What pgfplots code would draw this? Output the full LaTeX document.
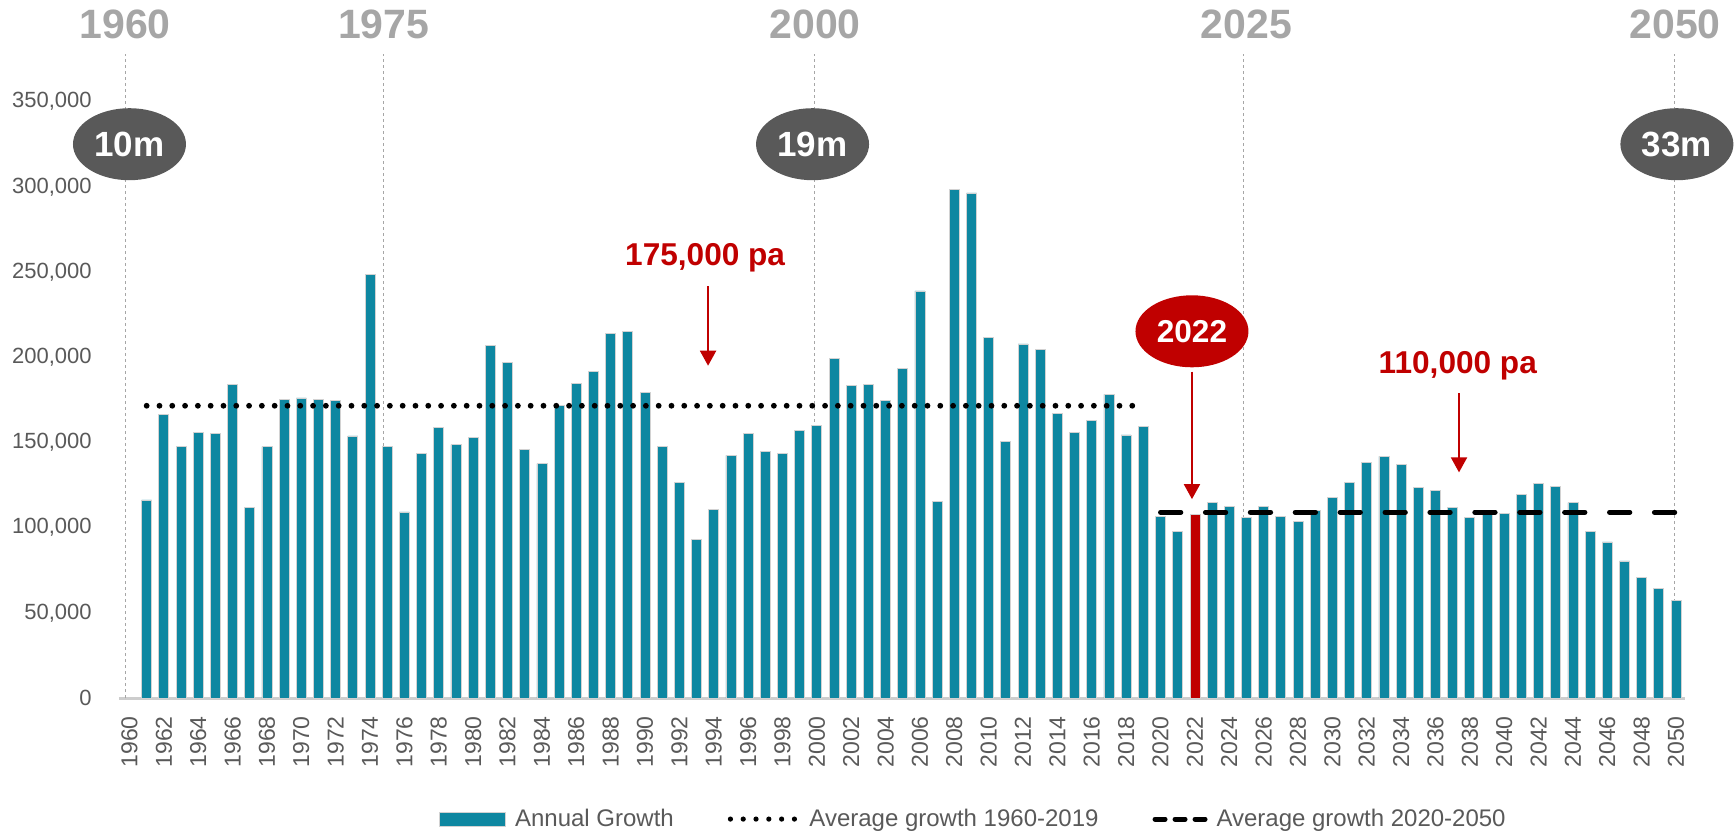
\documentclass[border=0pt]{standalone}
\usepackage{pgfplots}
\usepackage{pgfplotstable}
\pgfplotsset{compat=1.18}
\usepackage{fontspec}
\setmainfont{Liberation Sans}
\usetikzlibrary{arrows.meta}
\definecolor{barc}{RGB}{14,135,161}
\definecolor{redc}{RGB}{192,0,0}
\definecolor{txtc}{RGB}{89,89,89}
\definecolor{lgray}{RGB}{166,166,166}
\definecolor{axc}{RGB}{205,205,205}
\definecolor{ellc}{RGB}{89,89,89}

\pgfplotstableread{
year value
1961 116200
1962 166400
1963 147500
1964 156100
1965 155300
1966 183800
1967 111800
1968 147500
1969 175200
1970 176100
1971 175200
1972 174400
1973 153800
1974 248300
1975 147500
1976 109200
1977 143500
1978 158600
1979 148700
1980 152900
1981 206900
1982 196800
1983 145600
1984 137600
1985 171800
1986 184700
1987 191800
1988 214100
1989 214900
1990 179200
1991 147500
1992 126700
1993 93300
1994 110500
1995 142400
1996 155300
1997 144700
1998 143500
1999 156900
2000 160100
2001 199200
2002 183200
2003 183800
2004 174400
2005 193500
2006 238900
2007 115300
2008 298500
2009 296400
2010 211800
2011 150400
2012 207800
2013 204400
2014 167000
2015 156100
2016 163000
2017 178200
2018 154400
2019 159200
2020 106700
2021 98000
2023 114700
2024 112400
2025 105900
2026 112400
2027 106700
2028 103500
2029 110000
2030 117800
2031 126500
2032 138400
2033 141800
2034 137100
2035 123300
2036 121800
2037 111600
2038 105900
2039 107500
2040 108200
2041 119400
2042 125900
2043 124100
2044 114700
2045 98000
2046 91600
2047 80400
2048 71000
2049 64500
2050 57500
}\growth

\pgfplotstableread{
year value
2022 107500
}\growthred

\begin{document}
\begin{tikzpicture}
\begin{axis}[
  at={(0,0)}, anchor=south west,
  scale only axis, width=783pt, height=323.76pt,
  xmin=1959.39, xmax=2050.52, ymin=0, ymax=380000,
  clip=false,
  axis x line*=bottom, axis y line*=left,
  x axis line style={axc, line width=1.5pt},
  y axis line style={draw=none},
  major tick length=0pt,
  xtick={1960,1962,...,2050},
  ytick={0,50000,...,350000},
  scaled y ticks=false,
  xticklabel={\pgfmathprintnumber[assume math mode=true,fixed,1000 sep={}]{\tick}},
  yticklabel={\pgfmathprintnumber[assume math mode=true,fixed,1000 sep={,}]{\tick}},
  xticklabel style={font=\fontsize{11.5}{12}\selectfont, text=txtc, rotate=90, anchor=east, inner sep=0pt},
  yticklabel style={font=\fontsize{11}{12}\selectfont, text=txtc, anchor=east, inner sep=0pt},
  xticklabel shift=9pt,
  yticklabel shift=13.5pt,
  legend style={at={(axis description cs:0.545,-0.187)}, anchor=center, draw=none, fill=none,
    font=\fontsize{12}{14}\selectfont, text=txtc,
    nodes={inner sep=0pt},
    /tikz/every even column/.append style={column sep=27pt},
    /tikz/every odd column/.append style={column sep=4.5pt}},
  legend columns=3,
  legend cell align=left,
]
% reference vertical lines
\addplot[forget plot, lgray, line width=0.5pt, dash pattern=on 1.5pt off 1.5pt] coordinates {(1959.75,0) (1959.75,378000)};
\addplot[forget plot, lgray, line width=0.5pt, dash pattern=on 1.5pt off 1.5pt] coordinates {(1974.8,0) (1974.8,378000)};
\addplot[forget plot, lgray, line width=0.5pt, dash pattern=on 1.5pt off 1.5pt] coordinates {(1999.88,0) (1999.88,378000)};
\addplot[forget plot, lgray, line width=0.5pt, dash pattern=on 1.5pt off 1.5pt] coordinates {(2024.8,0) (2024.8,378000)};
\addplot[forget plot, lgray, line width=0.5pt, dash pattern=on 1.5pt off 1.5pt] coordinates {(2049.9,0) (2049.9,378000)};

\addplot[ybar, bar width=5pt, bar shift=0pt, fill=barc, draw=gray!35, line width=0.4pt,
  legend image code/.code={\fill[barc, draw=gray!35, line width=0.4pt] (0pt,-3.5pt) rectangle (33pt,3.5pt);}]
  table[x=year, y=value] {\growth};
\addlegendentry{Annual Growth}

\addplot[forget plot, ybar, bar width=5pt, bar shift=0pt, fill=redc, draw=gray!35, line width=0.4pt]
  table[x=year, y=value] {\growthred};

\addplot[black, line width=2.9pt, dash pattern=on 0pt off 6.4pt, line cap=round,
  legend image code/.code={\draw[black, line width=2.6pt, dash pattern=on 0pt off 6.4pt, line cap=round] (1.3pt,0pt) -- (35pt,0pt);}]
  coordinates {(1961,171500) (2019,171500)};
\addlegendentry{Average growth 1960-2019}

\addplot[black, line width=2.5pt, dash pattern=on 10.15pt off 12.3pt, line cap=round,
  legend image code/.code={\draw[black, line width=2.5pt, dash pattern=on 5pt off 5pt, line cap=round] (1.25pt,0pt) -- (26.25pt,0pt);}]
  coordinates {(2020,109000) (2050,109000)};
\addlegendentry{Average growth 2020-2050}

% top year labels
\node[text=lgray, font=\bfseries\fontsize{20.5}{22}\selectfont] at (axis cs:1959.75,395100) {1960};
\node[text=lgray, font=\bfseries\fontsize{20.5}{22}\selectfont] at (axis cs:1974.8,395100) {1975};
\node[text=lgray, font=\bfseries\fontsize{20.5}{22}\selectfont] at (axis cs:1999.9,395100) {2000};
\node[text=lgray, font=\bfseries\fontsize{20.5}{22}\selectfont] at (axis cs:2025.0,395100) {2025};
\node[text=lgray, font=\bfseries\fontsize{20.5}{22}\selectfont] at (axis cs:2049.95,395100) {2050};

% population ellipses
\fill[ellc] (axis cs:1960,325000) ellipse [x radius=28.25pt, y radius=18pt];
\node[text=white, font=\bfseries\fontsize{17.5}{18}\selectfont] at (axis cs:1960,325000) {10m};
\fill[ellc] (axis cs:1999.75,325000) ellipse [x radius=28.25pt, y radius=18pt];
\node[text=white, font=\bfseries\fontsize{17.5}{18}\selectfont] at (axis cs:1999.75,325000) {19m};
\fill[ellc] (axis cs:2050.05,325000) ellipse [x radius=28.25pt, y radius=18pt];
\node[text=white, font=\bfseries\fontsize{17.5}{18}\selectfont] at (axis cs:2050.05,325000) {33m};

% 2022 marker
\fill[redc] (axis cs:2021.83,215200) ellipse [x radius=28.25pt, y radius=18pt];
\node[text=white, font=\bfseries\fontsize{15.8}{17}\selectfont] at (axis cs:2021.83,215200) {2022};
\draw[redc, line width=1pt, -{Triangle[length=7.5pt,width=8pt]}] (axis cs:2021.83,191500) -- (axis cs:2021.83,116700);

% average annotations
\node[text=redc, font=\bfseries\fontsize{15.8}{17}\selectfont] at (axis cs:1993.5,258400) {175,000 pa};
\draw[redc, line width=1pt, -{Triangle[length=7.5pt,width=8pt]}] (axis cs:1993.67,241600) -- (axis cs:1993.67,195000);
\node[text=redc, font=\bfseries\fontsize{15.8}{17}\selectfont] at (axis cs:2037.3,195100) {110,000 pa};
\draw[redc, line width=1pt, -{Triangle[length=7.5pt,width=8pt]}] (axis cs:2037.37,178800) -- (axis cs:2037.37,132400);
\end{axis}
\pgfresetboundingbox
\path[use as bounding box] (-59.5pt,-68.5pt) rectangle (808pt,349pt);
\end{tikzpicture}
\end{document}
